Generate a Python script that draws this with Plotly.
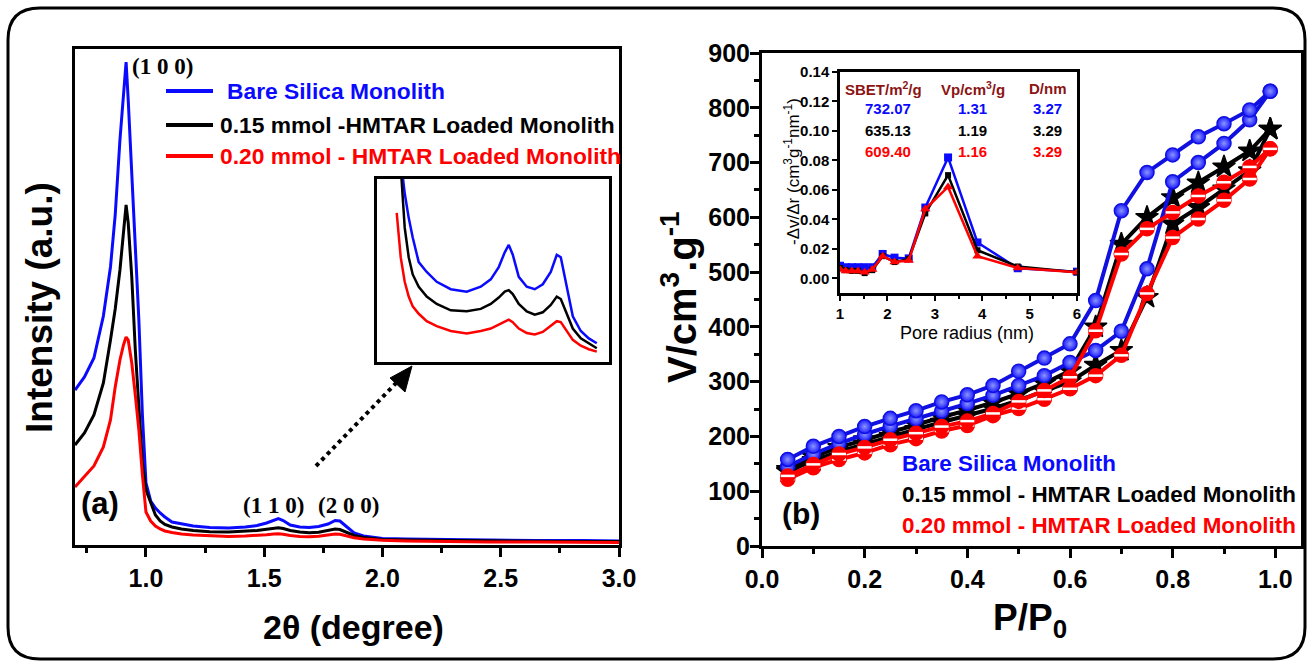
import plotly.graph_objects as go

W, H = 1310, 665
FONT = "Liberation Sans, Arial, sans-serif"
SERIF = "Liberation Serif, Times New Roman, serif"
BLUE, BLACK, RED, DARKRED = "#0a0aff", "#000000", "#ff0000", "#8b1414"

# ---------------- data ----------------
series_names = ["Bare Silica Monolith",
                "0.15 mmol - HMTAR Loaded Monolith",
                "0.20 mmol - HMTAR Loaded Monolith"]
legend_a_names = ["Bare Silica Monolith",
                  "0.15 mmol -HMTAR Loaded Monolith",
                  "0.20 mmol - HMTAR Loaded Monolith"]

# (a) small-angle XRD
xrd_2theta = [0.70, 0.74, 0.78, 0.82, 0.85, 0.87, 0.89, 0.905, 0.916, 0.925,
              0.94, 0.955, 0.97, 0.985, 1.00, 1.02, 1.04, 1.06, 1.08, 1.11,
              1.15, 1.20, 1.27, 1.35, 1.42, 1.47, 1.51, 1.54, 1.56, 1.58,
              1.61, 1.65, 1.69, 1.73, 1.77, 1.80, 1.82, 1.85, 1.88, 1.92,
              1.96, 2.00, 2.10, 2.25, 2.45, 2.65, 2.85, 3.00]
xrd_bare = [155, 168, 187, 229, 278, 330, 405, 455, 483, 445,
            370, 300, 225, 130, 62, 44, 37, 32, 28, 23,
            21, 19, 17.5, 17, 18, 19.5, 22, 25, 26.5, 24.5,
            20, 18, 17.5, 18.5, 21, 24.5, 24, 18, 12, 9,
            7.5, 6.5, 6, 5.5, 5, 4.5, 4.5, 4]
xrd_015 = [100, 112, 130, 162, 205, 236, 275, 310, 340, 322,
           268, 195, 135, 82, 55, 42, 30, 24, 20.5, 18,
           16, 14.5, 13.2, 13, 13.5, 14.5, 15.8, 17, 17.3, 16.5,
           14.5, 13, 12.3, 12.8, 14.3, 16, 15.5, 12.5, 9.5, 7.5,
           6.5, 5.5, 5, 4.5, 4, 3.8, 3.5, 3.5]
xrd_020 = [58, 68, 79, 98, 125, 158, 185, 200, 208, 205,
           182, 150, 115, 70, 33, 24, 19, 16, 14, 12.5,
           11, 10, 9, 8.5, 9, 9.5, 10.3, 11, 11.3, 10.8,
           9.5, 8.6, 8.3, 8.8, 10, 11, 10.8, 9, 7.2, 6,
           5.3, 4.8, 4, 3.5, 3, 3, 2.8, 2.5]
xrd_tick_vals = [1.0, 1.5, 2.0, 2.5, 3.0]
xrd_peak_labels = ["(1 0 0)", "(1 1 0)", "(2 0 0)"]

# (b) N2 isotherms
p_rel = [0.05, 0.10, 0.15, 0.20, 0.25, 0.30, 0.35, 0.40, 0.45, 0.50,
         0.55, 0.60, 0.65, 0.70, 0.75, 0.80, 0.85, 0.90, 0.95, 0.99]
bare_ads = [145, 168, 187, 204, 219, 232, 246, 260, 275, 293,
            311, 335, 357, 392, 506, 665, 700, 735, 778, 830]
bare_des = [158, 182, 200, 218, 233, 247, 263, 276, 293, 319,
            343, 369, 448, 612, 682, 714, 747, 771, 796, 830]
m015_ads = [136, 156, 172, 186, 200, 213, 226, 238, 251, 266,
            283, 300, 330, 357, 454, 588, 618, 652, 685, 761]
m015_des = [140, 163, 180, 194, 208, 221, 235, 248, 262, 278,
            297, 320, 400, 551, 600, 636, 663, 692, 721, 761]
m020_ads = [122, 143, 158, 170, 185, 196, 210, 220, 238, 251,
            268, 287, 311, 348, 461, 563, 597, 631, 670, 725]
m020_des = [128, 149, 168, 180, 194, 206, 218, 228, 242, 264,
            284, 308, 393, 533, 579, 609, 639, 664, 692, 725]

# (b) inset: pore size distribution
psd_r = [1.0, 1.12, 1.25, 1.38, 1.52, 1.68, 1.9, 2.15, 2.45, 2.8, 3.28, 3.9, 4.75, 6.0]
psd_bare = [0.0085, 0.0075, 0.0075, 0.0075, 0.0075, 0.0075, 0.0165, 0.014, 0.0135,
            0.048, 0.082, 0.0243, 0.0068, 0.0045]
psd_015 = [0.007, 0.0055, 0.005, 0.005, 0.0035, 0.0055, 0.015, 0.011, 0.013,
           0.044, 0.070, 0.019, 0.008, 0.004]
psd_020 = [0.006, 0.005, 0.005, 0.005, 0.004, 0.006, 0.015, 0.011, 0.012,
           0.047, 0.062, 0.015, 0.007, 0.004]

table_headers = ["SBET/m<sup>2</sup>/g", "Vp/cm<sup>3</sup>/g", "D/nm"]
sbet = ["732.07", "635.13", "609.40"]
vp = ["1.31", "1.19", "1.16"]
dnm = ["3.27", "3.29", "3.29"]

# ---------------- helpers (pixel -> paper) ----------------
def px(x):
    return x / W

def py(y):
    return 1 - y / H

colors = [BLUE, BLACK, RED]
fig = go.Figure()

# ---- panel (a) main curves ----
for ys, c in zip([xrd_bare, xrd_015, xrd_020], colors):
    fig.add_trace(go.Scatter(x=xrd_2theta, y=ys, mode="lines",
                             line=dict(color=c, width=3), xaxis="x", yaxis="y",
                             showlegend=False, hoverinfo="skip"))

# ---- panel (a) inset (zoomed region 1.0-2.0) ----
for ys, c in zip([xrd_bare, xrd_015, xrd_020], colors):
    xi = [x for x in xrd_2theta if 1.0 <= x <= 2.0]
    yi = [y for x, y in zip(xrd_2theta, ys) if 1.0 <= x <= 2.0]
    fig.add_trace(go.Scatter(x=xi, y=yi, mode="lines",
                             line=dict(color=c, width=2.5), xaxis="x3", yaxis="y3",
                             showlegend=False, hoverinfo="skip"))

# ---- panel (b) isotherms ----
def iso_trace(y, color, symbol, size, grad=None, lc=None, lw=1.5):
    marker = dict(symbol=symbol, size=size, color=color,
                  line=dict(color=lc or color, width=lw))
    if grad:
        marker["gradient"] = grad
    return go.Scatter(x=p_rel, y=y, mode="lines+markers",
                      line=dict(color=lc or color, width=4),
                      marker=marker, xaxis="x2", yaxis="y2",
                      showlegend=False, hoverinfo="skip", cliponaxis=False)

for y in [m015_ads, m015_des]:
    fig.add_trace(iso_trace(y, BLACK, "star", 17))
for y in [bare_ads, bare_des]:
    fig.add_trace(iso_trace(y, "#1a1aff", "circle", 14,
                            grad=dict(type="radial", color="#8c96ff"), lc="#1010e0"))
for y in [m020_ads, m020_des]:
    fig.add_trace(iso_trace(y, RED, "circle", 14, lc=RED))
    # white band across each half-filled marker
    fig.add_trace(go.Scatter(x=p_rel, y=y, mode="markers",
                             marker=dict(symbol="line-ew", size=10,
                                         line=dict(color="white", width=2.5)),
                             xaxis="x2", yaxis="y2", showlegend=False,
                             hoverinfo="skip", cliponaxis=False))

# ---- panel (b) inset PSD ----
for ys, c, sym, sz in zip([psd_bare, psd_015, psd_020], colors,
                          ["square", "square", "triangle-up"], [8, 6, 9]):
    fig.add_trace(go.Scatter(x=psd_r, y=ys, mode="lines+markers",
                             line=dict(color=c, width=2.5),
                             marker=dict(symbol=sym, size=sz, color=c),
                             xaxis="x4", yaxis="y4", showlegend=False, hoverinfo="skip"))

tickfont_big = dict(family=FONT, size=25, color="black", weight="bold")
tickfont_small = dict(family=FONT, size=15, color="black", weight="bold")
box = dict(showline=True, mirror=True, linecolor="black", showgrid=False,
           zeroline=False, automargin=False)

fig.update_layout(
    width=W, height=H, autosize=False,
    margin=dict(l=0, r=0, t=0, b=0, pad=0, autoexpand=False),
    paper_bgcolor="white", plot_bgcolor="rgba(0,0,0,0)",
    showlegend=False,
    xaxis=dict(domain=[px(75), px(619)], range=[0.7, 3.0], anchor="y",
               tickvals=xrd_tick_vals, tickformat=".1f",
               ticks="outside", ticklen=9, tickwidth=2.5, tickcolor="black",
               minor=dict(tickvals=[0.75, 1.25, 1.75, 2.25, 2.75], ticks="outside",
                          ticklen=5, tickwidth=2.5, tickcolor="black"),
               tickfont=tickfont_big, ticklabelstandoff=0, linewidth=3, **box),
    yaxis=dict(domain=[py(545), py(49)], range=[0, 496], anchor="x",
               showticklabels=False, ticks="", linewidth=3, **box),
    xaxis2=dict(domain=[px(762), px(1301)], range=[0, 1.05], anchor="y2",
                tick0=0, dtick=0.2, tickformat=".1f",
                ticks="outside", ticklen=9, tickwidth=2.5, tickcolor="black",
                minor=dict(dtick=0.1, ticks="outside", ticklen=5, tickwidth=2.5,
                           tickcolor="black"),
                tickfont=tickfont_big, ticklabelstandoff=0, linewidth=3, **box),
    yaxis2=dict(domain=[py(546), py(53)], range=[0, 900], anchor="x2",
                tick0=0, dtick=100,
                ticks="outside", ticklen=9, tickwidth=2.5, tickcolor="black",
                minor=dict(dtick=50, ticks="outside", ticklen=5, tickwidth=2.5,
                           tickcolor="black"),
                tickfont=tickfont_big, ticklabelstandoff=-5, linewidth=3, **box),
    xaxis3=dict(domain=[px(377), px(609)], range=[0.9015, 2.061], anchor="y3",
                showticklabels=False, ticks="", linewidth=3, **box),
    yaxis3=dict(domain=[py(362), py(179)], range=[2.7, 39.9], anchor="x3",
                showticklabels=False, ticks="", linewidth=3, **box),
    xaxis4=dict(domain=[px(840), px(1077)], range=[1, 6], anchor="y4",
                tick0=1, dtick=1, ticks="outside", ticklen=5, tickwidth=2, tickcolor="black",
                minor=dict(dtick=0.5, ticks="outside", ticklen=3, tickwidth=2,
                           tickcolor="black"),
                tickfont=tickfont_small, ticklabelstandoff=0, linewidth=2.5, **box),
    yaxis4=dict(domain=[py(293), py(72)], range=[-0.01, 0.14], anchor="x4",
                tick0=0, dtick=0.02, tickformat=".2f",
                ticks="outside", ticklen=5, tickwidth=2, tickcolor="black",
                tickfont=tickfont_small, linewidth=2.5, **box),
)

ann = []
def text(x, y, s, size, color="black", bold=True, family=FONT, angle=0,
         xanchor="center", yanchor="middle"):
    ann.append(dict(x=px(x), y=py(y), xref="paper", yref="paper", text=s,
                    showarrow=False, textangle=angle, xanchor=xanchor, yanchor=yanchor,
                    font=dict(family=family, size=size, color=color,
                              weight="bold" if bold else "normal")))

# axis titles
text(39, 308, "Intensity (a.u.)", 37, angle=-90)
text(354, 627, "2θ (degree)", 34)
text(679, 297, "V/cm<sup>3</sup>.g<sup>-1</sup>", 40, angle=-90)
text(1030, 620, "P/P<sub>0</sub>", 37)
text(792, 172, "-Δv/Δr (cm<sup>3</sup>g<sup>-1</sup>nm<sup>-1</sup>)", 17, bold=False, angle=-90)
text(967, 333, "Pore radius (nm)", 18, bold=False)

# panel labels
text(100, 503, "(a)", 31)
text(801, 513, "(b)", 30)

# peak labels
text(130, 66, xrd_peak_labels[0], 23, family=SERIF, xanchor="left")
text(273, 505, xrd_peak_labels[1], 23, family=SERIF)
text(348, 505, xrd_peak_labels[2], 23, family=SERIF)

# legend (a)
shapes = []
for name, c, y, x0 in zip(legend_a_names, colors, [91, 125, 156], [225, 218, 218]):
    shapes.append(dict(type="line", xref="paper", yref="paper",
                       x0=px(166), x1=px(213), y0=py(y), y1=py(y),
                       line=dict(color=c, width=4)))
    text(x0, y, name, 22.8, color=c, xanchor="left")

# legend (b)
for name, c, y in zip(series_names, colors, [463, 494, 525]):
    text(900, y, name, 22.4, color=c, xanchor="left")

# inset table
for s, x in zip(table_headers, [883, 973, 1048]):
    text(x, 88, s, 15, color=DARKRED)
for i, (c, y) in enumerate(zip(colors, [108, 130, 152])):
    text(888, y, sbet[i], 15, color=c)
    text(972, y, vp[i], 15, color=c)
    text(1047, y, dnm[i], 15, color=c)

# dotted arrow
shapes.append(dict(type="line", xref="paper", yref="paper",
                   x0=px(316), y0=py(466), x1=px(398), y1=py(381),
                   line=dict(color="black", width=4, dash="dot")))
shapes.append(dict(type="path", xref="paper", yref="paper",
                   path=f"M {px(412)} {py(366)} L {px(390)} {py(378)} L {px(405)} {py(392)} Z",
                   fillcolor="black", line=dict(color="black", width=1)))

# outer rounded frame
L, R, T, B, r = 8, 1305, 8, 659, 32
path = (f"M {px(L + r)} {py(T)} L {px(R - r)} {py(T)} "
        f"Q {px(R)} {py(T)} {px(R)} {py(T + r)} "
        f"L {px(R)} {py(B - r)} Q {px(R)} {py(B)} {px(R - r)} {py(B)} "
        f"L {px(L + r)} {py(B)} Q {px(L)} {py(B)} {px(L)} {py(B - r)} "
        f"L {px(L)} {py(T + r)} Q {px(L)} {py(T)} {px(L + r)} {py(T)} Z")
shapes.append(dict(type="path", xref="paper", yref="paper", path=path,
                   line=dict(color="black", width=3)))

fig.update_layout(annotations=ann, shapes=shapes)
fig.write_html("out.html", config={"responsive": False, "displayModeBar": False},
               post_script="document.body.style.margin='0';"
                           "document.body.style.overflow='hidden';")
